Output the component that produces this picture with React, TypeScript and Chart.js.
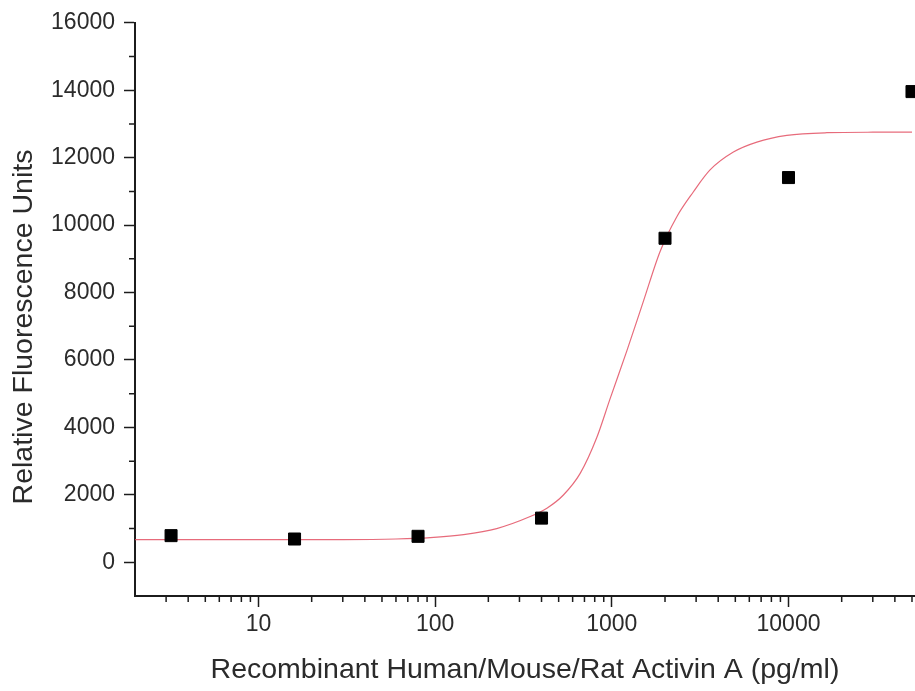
import React, { useEffect, useRef } from "react";
import { Chart, registerables } from "chart.js";

Chart.register(...registerables);

// ---- data ----
const doseX = [3.2, 16, 80, 400, 2000, 10000, 50000];
const rfuY = [790, 690, 770, 1310, 9610, 11410, 13960];

const fitX = [2, 10, 30, 60, 94, 145, 223, 345, 429, 532, 662, 822, 977, 1216, 1510, 1876, 2333, 2897, 3597, 4876, 6619, 9790, 16480, 30000, 50000];
const fitY = [670, 670, 672, 690, 730, 820, 1000, 1356, 1604, 1996, 2636, 3700, 4846, 6270, 7745, 9219, 10250, 10990, 11636, 12166, 12461, 12659, 12740, 12755, 12756];

const xMajorTicks = [10, 100, 1000, 10000];
const xMinorMultipliers = [2, 3, 4, 5, 6, 7, 8, 9];
const xDecades = [1, 10, 100, 1000, 10000];
const yMajorTicks = [0, 2000, 4000, 6000, 8000, 10000, 12000, 14000, 16000];
const yMinorTicks = [1000, 3000, 5000, 7000, 9000, 11000, 13000, 15000];

const X_MIN = 2;
const X_MAX = 52000;
const Y_MIN = -1000;
const Y_MAX = 16000;

const X_TITLE = "Recombinant Human/Mouse/Rat Activin A (pg/ml)";
const Y_TITLE = "Relative Fluorescence Units";

const FONT_FAMILY = '"Liberation Sans", Arial, Helvetica, sans-serif';
const TEXT_COLOR = "#2b2b2b";
const AXIS_COLOR = "#1c1c1c";

const xMinorTicks: number[] = [];
for (const d of xDecades) {
  for (const m of xMinorMultipliers) {
    const v = m * d;
    if (v > X_MIN && v < X_MAX) xMinorTicks.push(v);
  }
}

const extrasPlugin = {
  id: "extras",
  afterDraw(chart: any) {
    const { ctx, chartArea } = chart;
    const xs = chart.scales.x;
    const ys = chart.scales.y;
    ctx.save();
    ctx.strokeStyle = AXIS_COLOR;
    ctx.lineWidth = 1.5;
    ctx.beginPath();
    for (const v of xMinorTicks) {
      const px = xs.getPixelForValue(v);
      ctx.moveTo(px, chartArea.bottom);
      ctx.lineTo(px, chartArea.bottom + 6);
    }
    for (const v of yMinorTicks) {
      const py = ys.getPixelForValue(v);
      ctx.moveTo(chartArea.left, py);
      ctx.lineTo(chartArea.left - 6, py);
    }
    ctx.stroke();

    ctx.font = `28.5px ${FONT_FAMILY}`;
    ctx.fillStyle = TEXT_COLOR;
    ctx.textAlign = "center";
    ctx.textBaseline = "alphabetic";
    ctx.translate(32, 327);
    ctx.rotate(-Math.PI / 2);
    ctx.fillText(Y_TITLE, 0, 0);
    ctx.restore();
  },
};

export default function App() {
  const canvasRef = useRef<HTMLCanvasElement | null>(null);

  useEffect(() => {
    if (!canvasRef.current) return;
    const chart = new Chart(canvasRef.current, {
      type: "scatter",
      data: {
        datasets: [
          {
            label: "Measured",
            data: doseX.map((x, i) => ({ x, y: rfuY[i] })),
            pointStyle: "rect",
            pointRadius: 8.5,
            pointHoverRadius: 8.5,
            backgroundColor: "#000000",
            borderColor: "#000000",
            borderWidth: 1,
            showLine: false,
            clip: false,
          } as any,
          {
            label: "Fit",
            data: fitX.map((x, i) => ({ x, y: fitY[i] })),
            showLine: true,
            pointRadius: 0,
            borderColor: "rgba(225, 70, 90, 0.8)",
            borderWidth: 1.2,
            cubicInterpolationMode: "monotone",
            fill: false,
          } as any,
        ],
      },
      options: {
        responsive: false,
        animation: false,
        events: [],
        layout: { autoPadding: false, padding: { top: 20, right: 0, bottom: 0, left: 0 } },
        plugins: {
          legend: { display: false },
          tooltip: { enabled: false },
        },
        scales: {
          x: {
            type: "logarithmic",
            min: X_MIN,
            max: X_MAX,
            afterBuildTicks: (scale: any) => {
              scale.ticks = xMajorTicks.map((v) => ({ value: v, major: true }));
            },
            afterFit: (scale: any) => {
              scale.height = 95;
            },
            ticks: {
              autoSkip: false,
              maxRotation: 0,
              padding: 4,
              color: TEXT_COLOR,
              font: { family: FONT_FAMILY, size: 23 },
              callback: (v: any) => String(v),
            },
            grid: {
              display: true,
              drawOnChartArea: false,
              drawTicks: true,
              tickLength: 11,
              tickWidth: 1.5,
              tickColor: AXIS_COLOR,
              color: AXIS_COLOR,
            },
            border: { display: true, color: AXIS_COLOR, width: 2 },
            title: {
              display: true,
              text: X_TITLE,
              color: TEXT_COLOR,
              font: { family: FONT_FAMILY, size: 28.5 },
              padding: { top: 0, bottom: 4 },
            },
          },
          y: {
            type: "linear",
            min: Y_MIN,
            max: Y_MAX,
            afterBuildTicks: (scale: any) => {
              scale.ticks = yMajorTicks.map((v) => ({ value: v }));
            },
            afterFit: (scale: any) => {
              scale.width = 135;
            },
            ticks: {
              autoSkip: false,
              padding: 9,
              color: TEXT_COLOR,
              font: { family: FONT_FAMILY, size: 23 },
              callback: (v: any) => String(v),
            },
            grid: {
              display: true,
              drawOnChartArea: false,
              drawTicks: true,
              tickLength: 11,
              tickWidth: 1.5,
              tickColor: AXIS_COLOR,
              color: AXIS_COLOR,
            },
            border: { display: true, color: AXIS_COLOR, width: 2 },
            title: { display: false },
          },
        },
      } as any,
      plugins: [extrasPlugin],
    });
    return () => chart.destroy();
  }, []);

  return (
    <div style={{ position: "absolute", left: 0, top: 0, width: 915, height: 691, background: "#ffffff" }}>
      <canvas ref={canvasRef} width={915} height={691} style={{ display: "block" }} />
    </div>
  );
}
